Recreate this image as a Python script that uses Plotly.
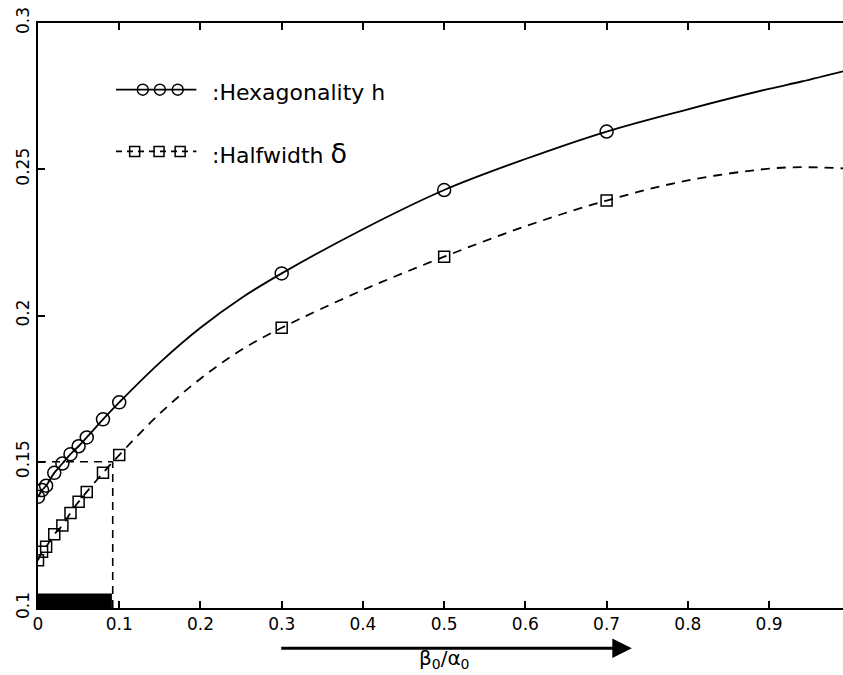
import plotly.graph_objects as go

# ---------------- data ----------------
ratio = [0, 0.005, 0.01, 0.02, 0.03, 0.04, 0.05, 0.06, 0.08, 0.1, 0.3, 0.5, 0.7]
hexagonality = [0.1380, 0.1403, 0.1418, 0.1462, 0.1494, 0.1526, 0.1553, 0.1583,
                0.1645, 0.1703, 0.2144, 0.2429, 0.2629]
halfwidth = [0.1163, 0.1192, 0.1209, 0.1252, 0.1282, 0.1325, 0.1363, 0.1397,
             0.1462, 0.1523, 0.1958, 0.2201, 0.2393]

# extra points along the smooth curves (between / beyond the markers)
curve_x = [0.15, 0.2, 0.25, 0.4, 0.6, 0.8, 0.9, 0.94, 0.991]
hex_curve = [0.1839, 0.1958, 0.2059, 0.2295, 0.2535, 0.2705, 0.2775, 0.2800, 0.2835]
half_curve = [0.1665, 0.1784, 0.1882, 0.2087, 0.2305, 0.2462, 0.2502, 0.2507, 0.2503]

x_ticks = [0, 0.1, 0.2, 0.3, 0.4, 0.5, 0.6, 0.7, 0.8, 0.9]
x_tick_labels = ["0", "0.1", "0.2", "0.3", "0.4", "0.5", "0.6", "0.7", "0.8", "0.9"]
y_ticks = [0.1, 0.15, 0.2, 0.25, 0.3]
y_tick_labels = ["0.1", "0.15", "0.2", "0.25", "0.3"]

region_x = [0, 0.092]      # marked low-ratio region
region_y = [0.1, 0.15]
bar_top = 0.105

legend_names = [":Hexagonality h", ":Halfwidth <span style='font-size:27px'>δ</span>"]

# ---------------- figure ----------------
FONT = "DejaVu Sans"
X_MAX = 0.991


def merged(xs, ys, cx, cy):
    pts = sorted(list(zip(xs, ys)) + list(zip(cx, cy)))
    return [p[0] for p in pts], [p[1] for p in pts]


hx, hy = merged(ratio, hexagonality, curve_x, hex_curve)
dx, dy = merged(ratio, halfwidth, curve_x, half_curve)

fig = go.Figure()

# curves
fig.add_trace(go.Scatter(x=hx, y=hy, mode="lines", line=dict(color="black", width=1.8, shape="spline"),
                         showlegend=False, hoverinfo="skip"))
fig.add_trace(go.Scatter(x=dx, y=dy, mode="lines",
                         line=dict(color="black", width=1.8, shape="spline", dash="9px,7px"),
                         showlegend=False, hoverinfo="skip"))
# markers
fig.add_trace(go.Scatter(x=ratio, y=hexagonality, mode="markers",
                         marker=dict(symbol="circle-open", size=13, color="black", line=dict(width=1.5)),
                         showlegend=False))
fig.add_trace(go.Scatter(x=ratio, y=halfwidth, mode="markers",
                         marker=dict(symbol="square-open", size=11, color="black", line=dict(width=1.5)),
                         showlegend=False))

# hand-made legend glyphs (3 markers on a line)
LEG_X = [0.096, 0.195]
LEG_MK_H = [0.129, 0.150, 0.172]
LEG_MK_D = [0.119, 0.149, 0.175]
LEG_Y = [0.2772, 0.2561]
fig.add_trace(go.Scatter(x=LEG_X, y=[LEG_Y[0]] * 2, mode="lines",
                         line=dict(color="black", width=1.8), showlegend=False, hoverinfo="skip"))
fig.add_trace(go.Scatter(x=LEG_MK_H, y=[LEG_Y[0]] * 3, mode="markers",
                         marker=dict(symbol="circle-open", size=11, color="black", line=dict(width=1.5)),
                         showlegend=False, hoverinfo="skip"))
fig.add_trace(go.Scatter(x=LEG_X, y=[LEG_Y[1]] * 2, mode="lines",
                         line=dict(color="black", width=1.8, dash="6px,5px"), showlegend=False, hoverinfo="skip"))
fig.add_trace(go.Scatter(x=LEG_MK_D, y=[LEG_Y[1]] * 3, mode="markers",
                         marker=dict(symbol="square-open", size=10, color="black", line=dict(width=1.5)),
                         showlegend=False, hoverinfo="skip"))

for name, yv in zip(legend_names, LEG_Y):
    fig.add_annotation(x=0.2114, y=yv - 0.0008, xref="x", yref="y", text=name, showarrow=False,
                       xanchor="left", yanchor="middle", font=dict(family=FONT, size=22, color="black"))

# marked region: dashed box and black bar
fig.add_shape(type="line", x0=region_x[0], x1=region_x[1], y0=region_y[1], y1=region_y[1],
              line=dict(color="black", width=1.6, dash="8px,6px"))
fig.add_shape(type="line", x0=region_x[1], x1=region_x[1], y0=region_y[0], y1=region_y[1],
              line=dict(color="black", width=1.6, dash="8px,6px"))
fig.add_shape(type="rect", x0=region_x[0], x1=region_x[1] - 0.001, y0=region_y[0], y1=bar_top,
              fillcolor="black", line=dict(width=0))

# x-axis arrow + label
fig.add_annotation(x=0.731, y=-0.0689, xref="x", yref="paper", ax=0.2976, ay=0,
                   axref="x", ayref="pixel", showarrow=True, arrowhead=2, arrowsize=1.3,
                   arrowwidth=3, arrowcolor="black", standoff=0, text="")
fig.add_annotation(x=0.5007, y=-0.1125, xref="x", yref="paper", showarrow=False,
                   text="β<sub>0</sub>/α<sub>0</sub>", yanchor="bottom",
                   font=dict(family=FONT, size=20, color="black"))

fig.update_layout(
    width=843, height=675,
    margin=dict(l=38, r=0, t=23, b=67, autoexpand=False),
    paper_bgcolor="white", plot_bgcolor="white",
    font=dict(family=FONT, size=17, color="black"),
    showlegend=False,
    xaxis=dict(range=[0, X_MAX], tickvals=x_ticks, ticktext=x_tick_labels, automargin=False,
               ticks="inside", ticklen=7, tickwidth=1.5, tickcolor="black",
               showline=True, linewidth=2, linecolor="black", mirror="allticks",
               showgrid=False, zeroline=False, tickfont=dict(family=FONT, size=17)),
    yaxis=dict(range=[0.1, 0.3], tickvals=y_ticks, ticktext=y_tick_labels, tickangle=-90,
               automargin=False,
               ticks="inside", ticklen=7, tickwidth=1.5, tickcolor="black",
               showline=True, linewidth=2, linecolor="black", mirror=False,
               showgrid=False, zeroline=False, tickfont=dict(family=FONT, size=17)),
)

fig.write_html("out.html", config={"displayModeBar": False},
               post_script="document.body.style.margin='0';document.body.style.overflow='hidden';")
